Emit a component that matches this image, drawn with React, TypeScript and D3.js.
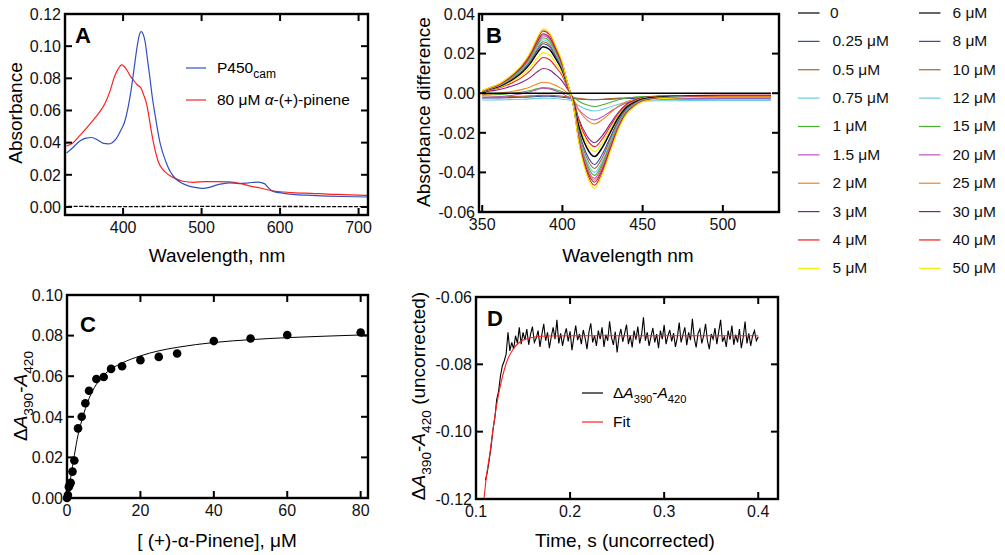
import React, { useRef, useEffect } from "react";
import * as d3 from "d3";

const W = 1005;
const H = 555;
const FONT = "'Liberation Sans', Arial, sans-serif";
const TICK_FS = 16;
const TITLE_FS = 19;

// ---- panel A: absolute spectra
const aBlue: [number, number][] = [
    [328, 0.0335], [335, 0.0365], [345, 0.041], [353, 0.0428], [360, 0.0432], [368, 0.0415],
    [375, 0.0395], [381, 0.0392], [386, 0.04], [392, 0.043], [397, 0.0475], [402, 0.053],
    [406, 0.061], [410, 0.072], [414, 0.086], [418, 0.1], [421, 0.1075], [423, 0.109],
    [425, 0.108], [428.5, 0.1015], [431, 0.092], [434, 0.081], [437, 0.069], [440.5, 0.058],
    [447, 0.04], [455, 0.0275], [460, 0.022], [466, 0.018], [474, 0.015], [484, 0.013],
    [494, 0.012], [502, 0.0115], [512, 0.0125], [522, 0.014], [535, 0.015], [548, 0.0145],
    [560, 0.015], [572, 0.0155], [580, 0.0145], [586, 0.0115], [592, 0.0095], [605, 0.0085],
    [620, 0.0077], [640, 0.0072], [660, 0.0068], [680, 0.0065], [712, 0.0062],
];
const aRed: [number, number][] = [
    [328, 0.038], [335, 0.0395], [345, 0.0445], [355, 0.05], [362, 0.054], [370, 0.059],
    [378, 0.0655], [384, 0.073], [389, 0.081], [394, 0.086], [398, 0.0883], [401, 0.0875],
    [405, 0.085], [409, 0.0815], [413, 0.079], [418, 0.076], [423, 0.0738], [426, 0.07],
    [430, 0.064], [433, 0.056], [436, 0.047], [440, 0.037], [445, 0.028], [451, 0.023],
    [458, 0.02], [466, 0.0178], [476, 0.016], [490, 0.0153], [505, 0.0158], [520, 0.0158],
    [535, 0.0156], [550, 0.0145], [562, 0.013], [575, 0.0118], [590, 0.01], [605, 0.0093],
    [620, 0.0088], [640, 0.0085], [660, 0.008], [680, 0.0077], [712, 0.0072],
];
const aBaseline: [number, number][] = [
    [330, 0.0004], [400, 0.0002], [500, 0.0004], [600, 0.0003], [712, 0.0002],
];

// ---- panel B: difference spectra
const bLabels = [
    "0", "0.25 μM", "0.5 μM", "0.75 μM", "1 μM", "1.5 μM", "2 μM", "3 μM", "4 μM", "5 μM",
    "6 μM", "8 μM", "10 μM", "12 μM", "15 μM", "20 μM", "25 μM", "30 μM", "40 μM", "50  μM",
];
const bPalette = [
    "#000000", "#3348a8", "#a8642c", "#66cde0", "#48b030",
    "#c050c0", "#f08424", "#802080", "#f01c1c", "#f0f000",
];
const bPeak = [
    0, 0.001, 0.001, 0.001, 0.004, 0.005, 0.0065, 0.0125, 0.018, 0.0205,
    0.0235, 0.025, 0.026, 0.027, 0.028, 0.029, 0.0295, 0.03, 0.0315, 0.0325,
];
const bTrough = [
    0, -0.0008, -0.0012, -0.0055, -0.0055, -0.011, -0.0145, -0.025, -0.027, -0.0295,
    -0.032, -0.036, -0.038, -0.04, -0.0415, -0.043, -0.044, -0.045, -0.0465, -0.048,
];
const bOffset = [
    0, -0.0025, -0.002, -0.0035, -0.0012, -0.0025, -0.001, 0, 0, 0,
    0, 0, 0, 0, 0, 0, 0, 0, 0, 0,
];
// wavelength grid and the two lobes of the difference spectrum (normalised)
const bWave = [
    350, 355, 360, 365, 370, 375, 380, 384, 388, 392, 396, 400, 403, 405, 407, 410, 415,
    420, 425, 430, 435, 440, 445, 450, 460, 470, 480, 500, 515, 530,
];
const bPosLobe = [
    0.04, 0.09, 0.14, 0.22, 0.32, 0.45, 0.64, 0.85, 1, 0.94, 0.73, 0.48, 0.18, 0, 0, 0, 0,
    0, 0, 0, 0, 0, 0, 0, 0, 0, 0, 0, 0, 0,
];
const bNegLobe = [
    0, 0, 0, 0, 0, 0, 0, 0, 0, 0, 0, 0, 0, 0, 0.15, 0.5, 0.85,
    1, 0.85, 0.61, 0.38, 0.22, 0.14, 0.09, 0.06, 0.05, 0.045, 0.04, 0.04, 0.04,
];

// ---- panel C: titration
const cConc = [0, 0.25, 0.5, 0.75, 1, 1.5, 2, 3, 4, 5, 6, 8, 10, 12, 15, 20, 25, 30, 40, 50, 60, 80];
const cDelta = [
    0, 0.0015, 0.0055, 0.0065, 0.0075, 0.013, 0.0185, 0.0343, 0.04, 0.0467, 0.0528,
    0.0586, 0.0596, 0.0636, 0.0649, 0.0679, 0.0695, 0.0712, 0.0773, 0.0786, 0.0803, 0.0815,
];
const cFit: [number, number][] = [
    [0, 0], [1, 0.01], [2, 0.021], [3, 0.031], [4, 0.038], [5, 0.044], [6, 0.049], [8, 0.056],
    [10, 0.0605], [12, 0.0635], [15, 0.0665], [20, 0.07], [25, 0.0725], [30, 0.0742],
    [40, 0.0766], [50, 0.078], [60, 0.079], [70, 0.0797], [80, 0.0803], [81.6, 0.0804],
];

// ---- panel D: stopped-flow trace (2 ms steps from 0.110 s)
const dStart = 0.11;
const dStep = 0.002;
const dTrace = [
    -0.1145, -0.112, -0.1085, -0.1045, -0.0995, -0.096, -0.0905, -0.088, -0.0835, -0.0805,
    -0.079, -0.077, -0.0705, -0.076, -0.0735, -0.0755, -0.0715, -0.0738, -0.069, -0.074, -0.0705,
    -0.0728, -0.0695, -0.0742, -0.071, -0.0688, -0.0735, -0.0722, -0.07, -0.0748, -0.0712,
    -0.068, -0.073, -0.0705, -0.0752, -0.0718, -0.069, -0.0725, -0.0668, -0.0738, -0.0708,
    -0.0745, -0.0715, -0.0693, -0.0732, -0.0702, -0.0758, -0.072, -0.0685, -0.0728, -0.071,
    -0.074, -0.0698, -0.0722, -0.0755, -0.0705, -0.0678, -0.0735, -0.0715, -0.0745, -0.07,
    -0.0725, -0.069, -0.0748, -0.0712, -0.073, -0.0672, -0.072, -0.0742, -0.0703, -0.0765,
    -0.0718, -0.0695, -0.0733, -0.0708, -0.0682, -0.074, -0.0715, -0.075, -0.07, -0.0727,
    -0.0688, -0.0738, -0.0712, -0.066, -0.073, -0.0705, -0.0745, -0.0718, -0.0692, -0.0735,
    -0.071, -0.0752, -0.07, -0.0725, -0.0683, -0.074, -0.0715, -0.0698, -0.0732, -0.0707,
    -0.0748, -0.072, -0.0676, -0.0735, -0.0712, -0.069, -0.0743, -0.0705, -0.0728, -0.0665,
    -0.0722, -0.075, -0.0708, -0.0695, -0.0738, -0.0715, -0.068, -0.073, -0.0755, -0.071,
    -0.0725, -0.0692, -0.074, -0.0703, -0.0668, -0.0733, -0.0718, -0.0748, -0.07, -0.0727,
    -0.0685, -0.0742, -0.0712, -0.0735, -0.0695, -0.0752, -0.072, -0.0673, -0.0738, -0.0708,
    -0.0745, -0.0715, -0.07, -0.073, -0.0718,
];
const dFit: [number, number][] = [
    [0.1085, -0.12], [0.111, -0.1135], [0.115, -0.106], [0.118, -0.0995], [0.122, -0.092],
    [0.127, -0.085], [0.133, -0.079], [0.14, -0.0753], [0.147, -0.0733], [0.157, -0.0722],
    [0.175, -0.0716], [0.21, -0.0715], [0.4, -0.0715],
];

const f2 = (v: number) => v.toFixed(2);

// box with inward ticks on all four sides
function frame(g, x, y, xTicks, yTicks, fx, fy) {
    const [x0, x1] = x.range();
    const [y0, y1] = y.range(); // y0 = bottom
    const tl = 7;
    const ticks = g.append("g").attr("stroke", "#000").attr("stroke-width", 2);
    xTicks.forEach((v) => {
        ticks.append("line").attr("x1", x(v)).attr("x2", x(v)).attr("y1", y0).attr("y2", y0 - tl);
        ticks.append("line").attr("x1", x(v)).attr("x2", x(v)).attr("y1", y1).attr("y2", y1 + tl);
        g.append("text")
            .attr("x", x(v))
            .attr("y", y0 + 18)
            .attr("text-anchor", "middle")
            .attr("font-size", TICK_FS)
            .attr("fill", "#111")
            .text(fx(v));
    });
    yTicks.forEach((v) => {
        ticks.append("line").attr("x1", x0).attr("x2", x0 + tl).attr("y1", y(v)).attr("y2", y(v));
        ticks.append("line").attr("x1", x1).attr("x2", x1 - tl).attr("y1", y(v)).attr("y2", y(v));
        g.append("text")
            .attr("x", x0 - 4)
            .attr("y", y(v))
            .attr("dy", "0.36em")
            .attr("text-anchor", "end")
            .attr("font-size", TICK_FS)
            .attr("fill", "#111")
            .text(fy(v));
    });
    g.append("rect")
        .attr("x", x0)
        .attr("y", y1)
        .attr("width", x1 - x0)
        .attr("height", y0 - y1)
        .attr("fill", "none")
        .attr("stroke", "#000")
        .attr("stroke-width", 2.4);
}

function clipFor(svg, id, x, y) {
    const [x0, x1] = x.range();
    const [y0, y1] = y.range();
    svg.select("defs")
        .append("clipPath")
        .attr("id", id)
        .append("rect")
        .attr("x", x0)
        .attr("y", y1)
        .attr("width", x1 - x0)
        .attr("height", y0 - y1);
    return `url(#${id})`;
}

function panelLetter(g, s, px, py) {
    g.append("text")
        .attr("x", px)
        .attr("y", py)
        .attr("font-size", 22)
        .attr("font-weight", "bold")
        .text(s);
}

function deltaA(t, fs, tail = "") {
    const sub = fs * 0.72;
    const drop = fs * 0.3;
    t.append("tspan").text("Δ");
    t.append("tspan").attr("font-style", "italic").text("A");
    t.append("tspan").attr("font-size", sub).attr("dy", drop).text("390");
    t.append("tspan").attr("dy", -drop).text("-");
    t.append("tspan").attr("font-style", "italic").text("A");
    t.append("tspan").attr("font-size", sub).attr("dy", drop).text("420");
    if (tail) t.append("tspan").attr("dy", -drop).text(tail);
}

function yTitle(g, cx, cy) {
    return g
        .append("text")
        .attr("transform", `translate(${cx},${cy}) rotate(-90)`)
        .attr("text-anchor", "middle")
        .attr("font-size", TITLE_FS);
}

function xTitle(g, cx, cy, s) {
    g.append("text")
        .attr("x", cx)
        .attr("y", cy)
        .attr("text-anchor", "middle")
        .attr("font-size", TITLE_FS)
        .text(s);
}

function drawA(svg) {
    const g = svg.append("g");
    const x = d3.scaleLinear().domain([326, 712]).range([65, 368]);
    const y = d3.scaleLinear().domain([-0.005, 0.12]).range([215, 14]);
    const clip = clipFor(svg, "clipA", x, y);
    const line = d3
        .line()
        .x((d) => x(d[0]))
        .y((d) => y(d[1]))
        .curve(d3.curveMonotoneX);
    const plot = g.append("g").attr("clip-path", clip).attr("fill", "none");
    plot.append("path").attr("d", line(aBaseline)).attr("stroke", "#000").attr("stroke-width", 1.3).attr("stroke-dasharray", "4,1.5");
    plot.append("path").attr("d", line(aRed)).attr("stroke", "#ff2020").attr("stroke-width", 1.2);
    plot.append("path").attr("d", line(aBlue)).attr("stroke", "#3050c0").attr("stroke-width", 1.2);

    frame(g, x, y, [400, 500, 600, 700], d3.range(0, 0.121, 0.02), (v) => String(v), f2);
    panelLetter(g, "A", 75, 43);

    // legend
    g.append("line").attr("x1", 186).attr("x2", 206).attr("y1", 68).attr("y2", 68).attr("stroke", "#3050c0").attr("stroke-width", 1.2);
    g.append("line").attr("x1", 186).attr("x2", 206).attr("y1", 100).attr("y2", 100).attr("stroke", "#ff2020").attr("stroke-width", 1.2);
    const t1 = g.append("text").attr("x", 217).attr("y", 73).attr("font-size", 15.5);
    t1.append("tspan").text("P450");
    t1.append("tspan").attr("font-size", 12).attr("dy", 5).text("cam");
    const t2 = g.append("text").attr("x", 217).attr("y", 105).attr("font-size", 15.5);
    t2.append("tspan").text("80 μM ");
    t2.append("tspan").attr("font-style", "italic").text("α");
    t2.append("tspan").text("-(+)-pinene");

    yTitle(g, 22, 113).text("Absorbance");
    xTitle(g, 217, 262, "Wavelength, nm");
}

function drawB(svg) {
    const g = svg.append("g");
    const x = d3.scaleLinear().domain([348, 535]).range([479, 779]);
    const y = d3.scaleLinear().domain([-0.06, 0.04]).range([212, 14]);
    const clip = clipFor(svg, "clipB", x, y);
    const line = d3
        .line()
        .x((d) => x(d[0]))
        .y((d) => y(d[1]))
        .curve(d3.curveMonotoneX);
    const plot = g.append("g").attr("clip-path", clip).attr("fill", "none");
    const curve = (i) =>
        bWave.map((w, k) => [w, bOffset[i] + bPeak[i] * bPosLobe[k] + bTrough[i] * bNegLobe[k]]);
    const order = d3.range(1, bLabels.length).concat([0]);
    order.forEach((i) => {
        plot.append("path")
            .attr("d", line(curve(i)))
            .attr("stroke", bPalette[i % 10])
            .attr("stroke-width", i === 0 || i === 10 ? 1.5 : 1.1);
    });

    frame(g, x, y, [350, 400, 450, 500], d3.range(-0.06, 0.041, 0.02), (v) => String(v), (v) => f2(Math.abs(v) < 1e-9 ? 0 : v));
    panelLetter(g, "B", 486, 43);

    // legend, two columns of ten
    bLabels.forEach((s, i) => {
        const col = Math.floor(i / 10);
        const row = i % 10;
        const ly = 13 + row * 28.37;
        const lx = col === 0 ? 798 : 919;
        g.append("line")
            .attr("x1", lx)
            .attr("x2", lx + 21.5)
            .attr("y1", ly)
            .attr("y2", ly)
            .attr("stroke", bPalette[i % 10])
            .attr("stroke-width", 1.2);
        g.append("text")
            .attr("x", col === 0 ? (i === 0 ? 830 : 832.5) : 952.5)
            .attr("y", ly + 5)
            .attr("font-size", 15.5)
            .attr("fill", "#111")
            .text(s);
    });

    yTitle(g, 430, 112).text("Absorbance difference");
    xTitle(g, 628, 262, "Wavelength  nm");
}

function drawC(svg) {
    const g = svg.append("g");
    const x = d3.scaleLinear().domain([0, 82]).range([67, 368]);
    const y = d3.scaleLinear().domain([0, 0.1]).range([498, 295]);
    const clip = clipFor(svg, "clipC", x, y);
    const line = d3
        .line()
        .x((d) => x(d[0]))
        .y((d) => y(d[1]))
        .curve(d3.curveMonotoneX);
    g.append("path").attr("clip-path", clip).attr("d", line(cFit)).attr("fill", "none").attr("stroke", "#000").attr("stroke-width", 1);
    g.append("g")
        .selectAll("circle")
        .data(cConc)
        .join("circle")
        .attr("cx", (d) => x(d))
        .attr("cy", (d, i) => y(cDelta[i]))
        .attr("r", 4.3)
        .attr("fill", "#000");

    frame(g, x, y, [0, 20, 40, 60, 80], d3.range(0, 0.101, 0.02), (v) => String(v), f2);
    panelLetter(g, "C", 80, 332);

    deltaA(yTitle(g, 27, 396), TITLE_FS);
    const t = g.append("text").attr("x", 217).attr("y", 547).attr("text-anchor", "middle").attr("font-size", TITLE_FS);
    t.append("tspan").text("[ (+)-");
    t.append("tspan").text("α");
    t.append("tspan").text("-Pinene], μM");
}

function drawD(svg) {
    const g = svg.append("g");
    const x = d3.scaleLinear().domain([0.1, 0.421]).range([476, 778]);
    const y = d3.scaleLinear().domain([-0.12, -0.06]).range([499, 297]);
    const clip = clipFor(svg, "clipD", x, y);
    const line = d3
        .line()
        .x((d) => x(d[0]))
        .y((d) => y(d[1]));
    const trace = dTrace.map((v, i) => [dStart + i * dStep, v]);
    const plot = g.append("g").attr("clip-path", clip).attr("fill", "none");
    plot.append("path").attr("d", line(trace)).attr("stroke", "#000").attr("stroke-width", 1.1);
    plot.append("path").attr("d", line.curve(d3.curveMonotoneX)(dFit)).attr("stroke", "#ff2020").attr("stroke-width", 1.1);

    frame(g, x, y, [0.1, 0.2, 0.3, 0.4], [-0.12, -0.1, -0.08, -0.06], (v) => v.toFixed(1), f2);
    panelLetter(g, "D", 487, 326);

    g.append("line").attr("x1", 582).attr("x2", 603).attr("y1", 393).attr("y2", 393).attr("stroke", "#000").attr("stroke-width", 1.2);
    g.append("line").attr("x1", 582).attr("x2", 603).attr("y1", 422).attr("y2", 422).attr("stroke", "#ff2020").attr("stroke-width", 1.2);
    deltaA(g.append("text").attr("x", 613).attr("y", 398).attr("font-size", 15.5), 15.5);
    g.append("text").attr("x", 613).attr("y", 427).attr("font-size", 15.5).text("Fit");

    deltaA(yTitle(g, 425, 396), TITLE_FS, " (uncorrected)");
    xTitle(g, 625, 547, "Time, s (uncorrected)");
}

export default function App() {
    const ref = useRef(null);

    useEffect(() => {
        const svg = d3.select(ref.current);
        svg.selectAll("*").remove();
        svg.append("defs");
        drawA(svg);
        drawB(svg);
        drawC(svg);
        drawD(svg);
    }, []);

    return (
        <svg
            ref={ref}
            width={W}
            height={H}
            style={{ position: "absolute", left: 0, top: 0, background: "#fff", fontFamily: FONT }}
        />
    );
}
